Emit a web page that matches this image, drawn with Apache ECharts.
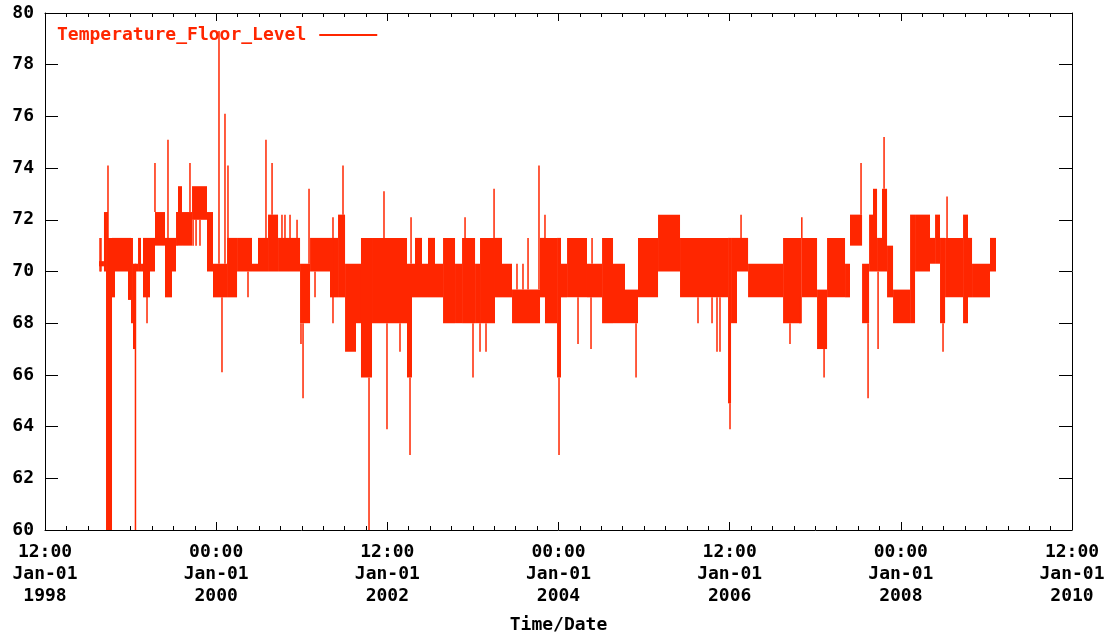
<!DOCTYPE html>
<html><head><meta charset="utf-8">
<script src="https://cdn.jsdelivr.net/npm/echarts@6/dist/echarts.min.js"></script>
<style>html,body{margin:0;padding:0;background:#fff}#c{width:1109px;height:637px}</style>
</head><body><div id="c"></div>
<script>
const seriesName = 'Temperature_Floor_Level';
const xAxisTitle = 'Time/Date';
const xTickValues = [1998, 2000, 2002, 2004, 2006, 2008, 2010];
const xTickTimes = ['12:00', '00:00', '12:00', '00:00', '12:00', '00:00', '12:00'];
const xTickDates = ['Jan-01', 'Jan-01', 'Jan-01', 'Jan-01', 'Jan-01', 'Jan-01', 'Jan-01'];
const xTickYears = ['1998', '2000', '2002', '2004', '2006', '2008', '2010'];
const yTickLabels = ['60', '62', '64', '66', '68', '70', '72', '74', '76', '78', '80'];

// Dense oscillation bands: time span (decimal years) and low/high temperature
const bandStart = [1998.631, 1998.689, 1998.713, 1998.736, 1998.783, 1998.818, 1998.970, 1999.005, 1999.028, 1999.052,
  1999.087, 1999.122, 1999.145, 1999.227, 1999.285, 1999.402, 1999.484, 1999.531, 1999.554, 1999.601,
  1999.718, 1999.893, 1999.963, 2000.127, 2000.244, 2000.419, 2000.489, 2000.606, 2000.723, 2000.980,
  2001.097, 2001.330, 2001.424, 2001.506, 2001.634, 2001.692, 2001.821, 2002.230, 2002.288, 2002.323,
  2002.405, 2002.475, 2002.557, 2002.651, 2002.791, 2002.873, 2003.025, 2003.083, 2003.258, 2003.340,
  2003.457, 2003.784, 2003.842, 2003.983, 2004.029, 2004.100, 2004.333, 2004.509, 2004.637, 2004.777,
  2004.929, 2005.163, 2005.420, 2005.981, 2006.016, 2006.086, 2006.215, 2006.624, 2006.843, 2007.021,
  2007.138, 2007.348, 2007.406, 2007.547, 2007.629, 2007.675, 2007.722, 2007.780, 2007.839, 2007.909,
  2008.108, 2008.166, 2008.341, 2008.400, 2008.458, 2008.517, 2008.727, 2008.785, 2008.832, 2009.042];
const bandEnd = [1998.689, 1998.713, 1998.736, 1998.783, 1998.818, 1998.970, 1999.005, 1999.028, 1999.052, 1999.087,
  1999.122, 1999.145, 1999.227, 1999.285, 1999.402, 1999.484, 1999.531, 1999.554, 1999.601, 1999.718,
  1999.893, 1999.963, 2000.127, 2000.244, 2000.419, 2000.489, 2000.606, 2000.723, 2000.980, 2001.097,
  2001.330, 2001.424, 2001.506, 2001.634, 2001.692, 2001.821, 2002.230, 2002.288, 2002.323, 2002.405,
  2002.475, 2002.557, 2002.651, 2002.791, 2002.873, 2003.025, 2003.083, 2003.258, 2003.340, 2003.457,
  2003.784, 2003.842, 2003.983, 2004.029, 2004.100, 2004.333, 2004.509, 2004.637, 2004.777, 2004.929,
  2005.163, 2005.420, 2005.981, 2006.016, 2006.086, 2006.215, 2006.624, 2006.843, 2007.021, 2007.138,
  2007.348, 2007.406, 2007.547, 2007.629, 2007.675, 2007.722, 2007.780, 2007.839, 2007.909, 2008.108,
  2008.166, 2008.341, 2008.400, 2008.458, 2008.517, 2008.727, 2008.785, 2008.832, 2009.042, 2009.112];
const bandLow = [70.2, 70.0, 60.0, 60.0, 69.0, 70.0, 68.9, 68.0, 67.0, 70.0,
  70.0, 70.0, 69.0, 70.0, 71.0, 69.0, 70.0, 71.0, 71.0, 71.0,
  72.0, 70.0, 69.0, 69.0, 70.0, 70.0, 70.0, 70.0, 70.0, 68.0,
  70.0, 69.0, 69.0, 66.9, 68.0, 65.9, 68.0, 65.9, 69.0, 69.0,
  69.0, 69.0, 69.0, 68.0, 68.0, 68.0, 68.0, 68.0, 69.0, 69.0,
  68.0, 69.0, 68.0, 65.9, 69.0, 69.0, 69.0, 68.0, 68.0, 68.0,
  69.0, 70.0, 69.0, 64.9, 68.0, 70.0, 69.0, 68.0, 69.0, 67.0,
  69.0, 69.0, 71.0, 68.0, 70.0, 70.0, 70.0, 70.0, 69.0, 68.0,
  68.0, 70.0, 70.3, 70.3, 68.0, 69.0, 68.0, 69.0, 69.0, 70.0];
const bandHigh = [70.4, 72.3, 72.3, 71.3, 71.3, 71.3, 71.3, 71.3, 70.3, 70.3,
  71.3, 70.3, 71.3, 71.3, 72.3, 71.3, 71.3, 72.3, 73.3, 72.3,
  73.3, 72.3, 70.3, 71.3, 71.3, 70.3, 71.3, 72.2, 71.3, 70.3,
  71.3, 71.3, 72.2, 70.3, 70.3, 71.3, 71.3, 70.3, 70.3, 71.3,
  70.3, 71.3, 70.3, 71.3, 70.3, 71.3, 70.3, 71.3, 71.3, 70.3,
  69.3, 71.3, 71.3, 71.3, 70.3, 71.3, 70.3, 71.3, 70.3, 69.3,
  71.3, 72.2, 71.3, 71.3, 71.3, 71.3, 70.3, 71.3, 71.3, 69.3,
  71.3, 70.3, 72.2, 70.3, 72.2, 73.2, 71.3, 73.2, 71.0, 69.3,
  72.2, 72.2, 71.3, 72.2, 71.3, 71.3, 72.2, 71.3, 70.3, 71.3];

// Isolated excursions (single readings)
const spikeTime = [1998.643, 1998.654, 1998.736, 1999.057, 1999.192, 1999.285, 1999.437, 1999.694, 1999.730, 1999.765,
  1999.811, 2000.033, 2000.068, 2000.103, 2000.138, 2000.372, 2000.582, 2000.653, 2000.769, 2000.804,
  2000.863, 2000.945, 2000.991, 2001.015, 2001.085, 2001.155, 2001.365, 2001.482, 2001.786, 2001.961,
  2001.996, 2002.148, 2002.265, 2002.277, 2002.908, 2003.001, 2003.083, 2003.153, 2003.247, 2003.515,
  2003.585, 2003.644, 2003.772, 2003.842, 2004.006, 2004.228, 2004.380, 2004.392, 2004.906, 2005.630,
  2005.794, 2005.852, 2005.887, 2006.004, 2006.133, 2006.705, 2006.822, 2006.843, 2007.103, 2007.535,
  2007.617, 2007.734, 2007.804, 2008.493, 2008.540];
const spikeLow = [70.0, 70.0, 71.3, 60.0, 68.0, 72.3, 71.3, 72.3, 71.0, 71.0,
  71.0, 70.3, 66.1, 70.3, 71.3, 69.0, 71.3, 72.2, 71.3, 71.3,
  71.3, 71.3, 67.2, 65.1, 70.3, 69.0, 68.0, 72.2, 60.0, 71.3,
  63.9, 66.9, 62.9, 70.3, 71.3, 65.9, 66.9, 66.9, 71.3, 69.3,
  69.3, 69.3, 69.3, 71.3, 62.9, 67.2, 67.0, 70.3, 65.9, 68.0,
  68.0, 66.9, 66.9, 63.9, 71.3, 67.2, 68.0, 71.3, 65.9, 72.2,
  65.1, 67.0, 73.2, 66.9, 71.3];
const spikeHigh = [71.3, 71.3, 74.1, 70.3, 70.0, 74.2, 75.1, 74.2, 72.0, 72.0,
  72.0, 79.3, 69.0, 76.1, 74.1, 70.0, 75.1, 74.2, 72.2, 72.2,
  72.2, 72.0, 68.0, 68.0, 73.2, 70.0, 72.1, 74.1, 65.9, 73.1,
  68.0, 68.0, 65.9, 72.1, 72.1, 68.0, 68.0, 68.0, 73.2, 70.3,
  70.3, 71.3, 74.1, 72.2, 65.9, 69.0, 69.0, 71.3, 68.0, 69.0,
  69.0, 69.0, 69.0, 64.9, 72.2, 68.0, 69.0, 72.1, 67.0, 74.2,
  68.0, 70.0, 75.2, 68.0, 72.9];

const RED = '#ff2600';
const FONT = 'DejaVu Sans Mono';
const textBase = { fontFamily: FONT, fontWeight: 'bold', fontSize: 18, color: '#000' };

const chart = echarts.init(document.getElementById('c'), null, { renderer: 'canvas' });

const xLabel = v => {
  const i = xTickValues.indexOf(Math.round(v));
  return i < 0 ? '' : xTickTimes[i] + '\n' + xTickDates[i] + '\n' + xTickYears[i];
};
const yLabel = v => {
  const i = Math.round((v - 60) / 2);
  return yTickLabels[i] !== undefined ? yTickLabels[i] : '';
};

const axisCommon = {
  axisLine: { show: true, lineStyle: { color: '#000', width: 1 } },
  splitLine: { show: false }
};

chart.setOption({
  animation: false,
  backgroundColor: '#fff',
  grid: { left: 45, right: 37, top: 13, bottom: 107, containLabel: false, outerBoundsMode: 'none' },
  legend: {
    data: [seriesName], left: 52, top: 21, align: 'right',
    icon: 'rect', itemWidth: 58, itemHeight: 2,
    textStyle: { fontFamily: FONT, fontWeight: 'bold', fontSize: 18, color: RED, padding: [0, 8, 0, 0] }
  },
  xAxis: [
    Object.assign({
      type: 'value', min: 1998, max: 2010, interval: 2, position: 'bottom',
      axisTick: { show: true, inside: true, length: 8, lineStyle: { color: '#000' } },
      minorTick: { show: true, splitNumber: 8, length: 4, lineStyle: { color: '#000' } },
      axisLabel: Object.assign({ formatter: xLabel, lineHeight: 22, margin: 11 }, textBase),
      name: xAxisTitle, nameLocation: 'middle', nameGap: 86,
      nameTextStyle: Object.assign({}, textBase)
    }, axisCommon),
    Object.assign({
      type: 'value', min: 1998, max: 2010, interval: 2, position: 'top',
      axisTick: { show: true, inside: true, length: 8, lineStyle: { color: '#000' } },
      minorTick: { show: true, splitNumber: 8, length: 4, lineStyle: { color: '#000' } },
      axisLabel: { show: false }
    }, axisCommon)
  ],
  yAxis: [
    Object.assign({
      type: 'value', min: 60, max: 80, interval: 2, position: 'left',
      axisTick: { show: true, inside: true, length: 13, lineStyle: { color: '#000' } },
      axisLabel: Object.assign({ formatter: yLabel, margin: 11 }, textBase)
    }, axisCommon),
    Object.assign({
      type: 'value', min: 60, max: 80, interval: 2, position: 'right',
      axisTick: { show: true, inside: true, length: 13, lineStyle: { color: '#000' } },
      axisLabel: { show: false }
    }, axisCommon)
  ],
  series: [
    {
      name: seriesName, type: 'custom', xAxisIndex: 0, yAxisIndex: 0, clip: true,
      itemStyle: { color: RED },
      encode: { x: [0, 1], y: [2, 3] },
      data: bandStart.map((s, i) => [s, bandEnd[i], bandLow[i], bandHigh[i]]),
      renderItem: (params, api) => {
        const p0 = api.coord([api.value(0), api.value(3)]);
        const p1 = api.coord([api.value(1), api.value(2)]);
        return {
          type: 'rect',
          shape: { x: p0[0], y: p0[1], width: Math.max(1, p1[0] - p0[0]), height: p1[1] - p0[1] },
          style: { fill: RED }
        };
      }
    },
    {
      name: 'spikes', type: 'custom', xAxisIndex: 0, yAxisIndex: 0, clip: true,
      itemStyle: { color: RED },
      encode: { x: 0, y: [1, 2] },
      data: spikeTime.map((t, i) => [t, spikeLow[i], spikeHigh[i]]),
      renderItem: (params, api) => {
        const a = api.coord([api.value(0), api.value(1)]);
        const b = api.coord([api.value(0), api.value(2)]);
        return {
          type: 'line',
          shape: { x1: a[0], y1: a[1], x2: b[0], y2: b[1] },
          style: { stroke: RED, lineWidth: 1.5 }
        };
      }
    }
  ]
});
</script>
</body></html>
